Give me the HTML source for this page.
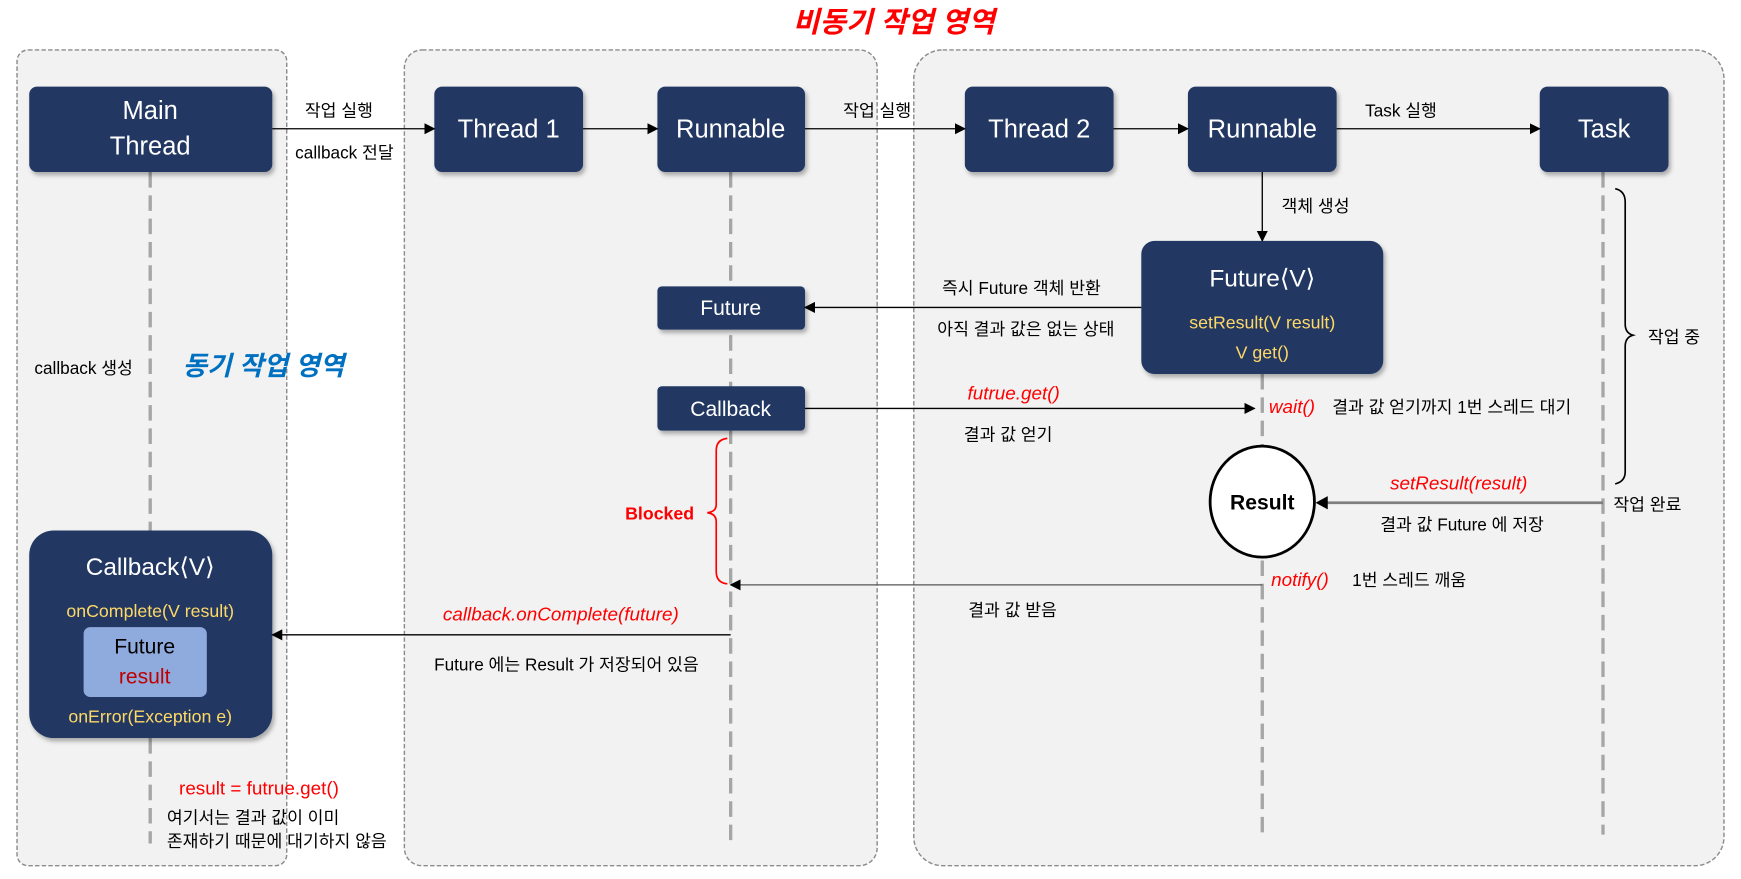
<!DOCTYPE html>
<html><head><meta charset="utf-8"><style>
html,body{margin:0;padding:0;background:#fff;}
svg{display:block;}
text{font-family:"Liberation Sans","Noto Sans CJK KR",sans-serif;}
</style></head><body>
<svg width="1741" height="879" viewBox="0 0 1568 792" xmlns="http://www.w3.org/2000/svg">
<defs>
<marker id="a" markerWidth="10" markerHeight="10" refX="9" refY="5" orient="auto" markerUnits="userSpaceOnUse"><path d="M0,0 L10,5 L0,10 z" fill="#000"/></marker>
<filter id="sh" x="-10%" y="-10%" width="130%" height="140%"><feDropShadow dx="2" dy="3" stdDeviation="2" flood-color="#000" flood-opacity="0.3"/></filter>
</defs>
<!-- panels -->
<rect x="15" y="45" width="243" height="735" rx="10" fill="#f2f2f2" stroke="#8c8c8c" stroke-width="1.3" stroke-dasharray="4,2"/>
<rect x="364" y="45" width="426" height="735" rx="16" fill="#f2f2f2" stroke="#8c8c8c" stroke-width="1.3" stroke-dasharray="4,2"/>
<rect x="823" y="45" width="730" height="735" rx="26" fill="#f2f2f2" stroke="#8c8c8c" stroke-width="1.3" stroke-dasharray="4,2"/>

<text x="805" y="29" font-size="26" font-weight="bold" font-style="italic" fill="#ff0000" text-anchor="middle">비동기 작업 영역</text>

<!-- lifelines -->
<g stroke="#a6a6a6" stroke-width="3" stroke-dasharray="14,7" fill="none">
<line x1="135" y1="155" x2="135" y2="478"/>
<line x1="135" y1="665" x2="135" y2="760"/>
<line x1="658" y1="155" x2="658" y2="760"/>
<line x1="1137" y1="337" x2="1137" y2="750"/>
<line x1="1444" y1="155" x2="1444" y2="752"/>
</g>

<!-- boxes -->
<g fill="#203864" filter="url(#sh)">
<rect x="26" y="78" width="219" height="77" rx="7"/>
<rect x="391" y="78" width="134" height="77" rx="7"/>
<rect x="592" y="78" width="133" height="77" rx="7"/>
<rect x="869" y="78" width="134" height="77" rx="7"/>
<rect x="1070" y="78" width="134" height="77" rx="7"/>
<rect x="1387" y="78" width="116" height="77" rx="7"/>
<rect x="1028" y="217" width="218" height="120" rx="12"/>
<rect x="592" y="258" width="133" height="39" rx="4"/>
<rect x="592" y="348" width="133" height="40" rx="4"/>
<rect x="26" y="478" width="219" height="187" rx="22"/>
</g>
<rect x="75" y="565" width="111" height="63" rx="6" fill="#8faadc"/>

<g fill="#fff" font-size="23" text-anchor="middle">
<text x="135" y="107">Main</text>
<text x="135" y="139">Thread</text>
<text x="458" y="124">Thread 1</text>
<text x="658" y="124">Runnable</text>
<text x="936" y="124">Thread 2</text>
<text x="1137" y="124">Runnable</text>
<text x="1445" y="124">Task</text>
<text x="1137" y="258" font-size="22">Future⟨V⟩</text>
<text x="658" y="284" font-size="19">Future</text>
<text x="658" y="375" font-size="19">Callback</text>
<text x="135" y="518" font-size="22">Callback⟨V⟩</text>
</g>
<g fill="#ffd966" font-size="16" text-anchor="middle">
<text x="1137" y="296">setResult(V result)</text>
<text x="1137" y="323">V get()</text>
<text x="135" y="556">onComplete(V result)</text>
<text x="135" y="651">onError(Exception e)</text>
</g>
<text x="130" y="589" font-size="19" text-anchor="middle" fill="#000">Future</text>
<text x="130" y="616" font-size="19" text-anchor="middle" fill="#c00000">result</text>

<!-- Result circle -->
<ellipse cx="1137" cy="452" rx="47" ry="50" fill="#fff" stroke="#000" stroke-width="2.5"/>
<text x="1137" y="459" font-size="19" font-weight="bold" text-anchor="middle">Result</text>

<!-- arrows -->
<g stroke="#000" stroke-width="1.2" fill="none" marker-end="url(#a)">
<line x1="245" y1="116" x2="391" y2="116"/>
<line x1="525" y1="116" x2="592" y2="116"/>
<line x1="725" y1="116" x2="869" y2="116"/>
<line x1="1003" y1="116" x2="1070" y2="116"/>
<line x1="1204" y1="116" x2="1387" y2="116"/>
<line x1="1137" y1="155" x2="1137" y2="217"/>
<line x1="1028" y1="277" x2="725" y2="277"/>
<line x1="725" y1="368" x2="1130" y2="368"/>
<line x1="1137" y1="527" x2="658" y2="527" stroke="#555"/>
<line x1="658" y1="572" x2="245" y2="572"/>
</g>
<line x1="1444" y1="453" x2="1195" y2="453" stroke="#7f7f7f" stroke-width="2.5"/>
<path d="M1185,453 L1196,447 L1196,459 z" fill="#000"/>

<!-- braces -->
<path d="M1455,170 Q1464,172 1464,182 L1464,292 Q1464,300 1471,302 Q1464,304 1464,312 L1464,425 Q1464,434 1455,436" fill="none" stroke="#000" stroke-width="1.5"/>
<path d="M655,395 Q645,396 645,406 L645,455 Q645,461 637,462 Q645,463 645,470 L645,515 Q645,525 655,526" fill="none" stroke="#ff0000" stroke-width="1.5"/>

<!-- labels -->
<g font-size="15.5" fill="#000">
<text x="305" y="105" text-anchor="middle">작업 실행</text>
<text x="310" y="143" text-anchor="middle">callback 전달</text>
<text x="790" y="105" text-anchor="middle">작업 실행</text>
<text x="1262" y="105" text-anchor="middle">Task 실행</text>
<text x="1185" y="191" text-anchor="middle">객체 생성</text>
<text x="920" y="265" text-anchor="middle">즉시 Future 객체 반환</text>
<text x="924" y="302" text-anchor="middle">아직 결과 값은 없는 상태</text>
<text x="908" y="397" text-anchor="middle">결과 값 얻기</text>
<text x="1200" y="372">결과 값 얻기까지 1번 스레드 대기</text>
<text x="1317" y="478" text-anchor="middle">결과 값 Future 에 저장</text>
<text x="1484" y="460" text-anchor="middle">작업 완료</text>
<text x="1508" y="309" text-anchor="middle">작업 중</text>
<text x="1218" y="528">1번 스레드 깨움</text>
<text x="912" y="555" text-anchor="middle">결과 값 받음</text>
<text x="510" y="604" text-anchor="middle">Future 에는 Result 가 저장되어 있음</text>
<text x="75" y="337" text-anchor="middle">callback 생성</text>
<text x="150" y="742">여기서는 결과 값이 이미</text>
<text x="150" y="763">존재하기 때문에 대기하지 않음</text>
</g>
<g font-size="17" fill="#ff0000" font-style="italic">
<text x="913" y="360" text-anchor="middle">futrue.get()</text>
<text x="1143" y="372">wait()</text>
<text x="1314" y="441" text-anchor="middle">setResult(result)</text>
<text x="1145" y="528">notify()</text>
<text x="505" y="559" text-anchor="middle">callback.onComplete(future)</text>
</g>
<text x="233" y="716" font-size="17" fill="#ff0000" text-anchor="middle">result = futrue.get()</text>
<text x="594" y="468" font-size="16" font-weight="bold" fill="#ff0000" text-anchor="middle">Blocked</text>
<text x="237" y="338" font-size="24" font-weight="bold" font-style="italic" fill="#0070c0" text-anchor="middle">동기 작업 영역</text>
</svg>
</body></html>
